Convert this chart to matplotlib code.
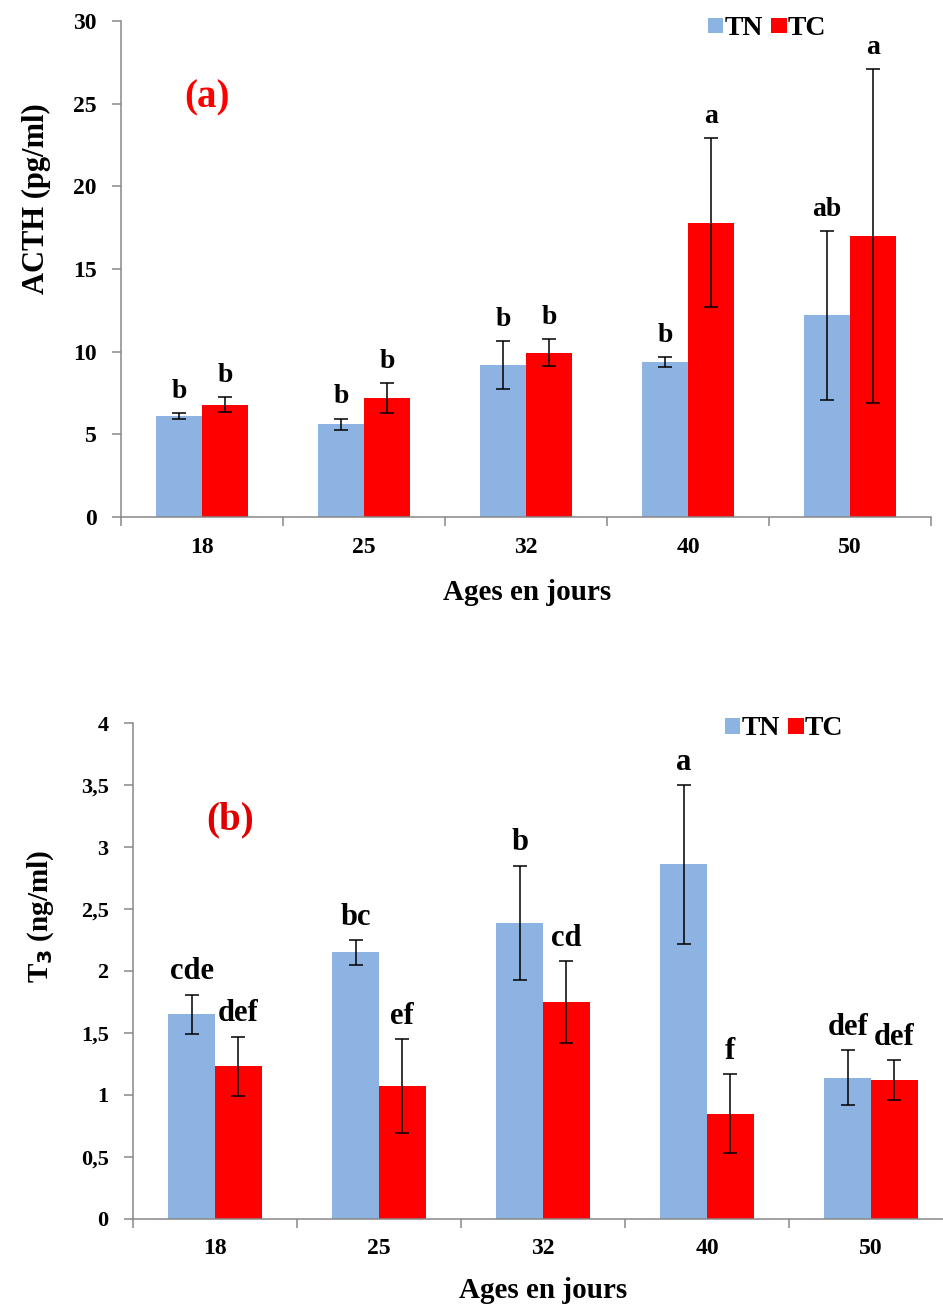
import matplotlib
matplotlib.use("Agg")
import matplotlib.pyplot as plt
import numpy as np

plt.rcParams['font.family'] = ['Liberation Serif', 'DejaVu Serif']
plt.rcParams['font.weight'] = 'bold'

ages = ["18", "25", "32", "40", "50"]

# panel (a) ACTH pg/ml
acth_tn = [6.1, 5.6, 9.2, 9.35, 12.2]
acth_tn_err = [0.2, 0.35, 1.45, 0.3, 5.1]
acth_tc = [6.8, 7.2, 9.95, 17.8, 17.0]
acth_tc_err = [0.45, 0.9, 0.8, 5.1, 10.1]
acth_tn_lab = ["b", "b", "b", "b", "ab"]
acth_tc_lab = ["b", "b", "b", "a", "a"]
acth_ticks = [0, 5, 10, 15, 20, 25, 30]

# panel (b) T3 ng/ml
t3_tn = [1.65, 2.15, 2.39, 2.86, 1.14]
t3_tn_err = [0.16, 0.10, 0.46, 0.64, 0.22]
t3_tc = [1.23, 1.07, 1.75, 0.85, 1.12]
t3_tc_err = [0.24, 0.38, 0.33, 0.32, 0.16]
t3_tn_lab = ["cde", "bc", "b", "a", "def"]
t3_tc_lab = ["def", "ef", "cd", "f", "def"]
t3_ticks = [0, 0.5, 1, 1.5, 2, 2.5, 3, 3.5, 4]
t3_ticklabels = ["0", "0,5", "1", "1,5", "2", "2,5", "3", "3,5", "4"]

c_tn = '#8DB3E2'
c_tc = '#FF0000'
grey = '#878787'
w = 0.284

fig = plt.figure(figsize=(9.43, 13.11), dpi=100)
ax1 = fig.add_axes([0.1283, 0.6056, 0.8590, 0.3784])
ax2 = fig.add_axes([0.1410, 0.0702, 0.8696, 0.3783])


def panel(ax, tn, tn_err, tc, tc_err, tn_lab, tc_lab, ymax, lab_size, tick_size):
    x = np.arange(len(ages))
    ekw = dict(ecolor='black', elinewidth=1.1, capsize=5, capthick=1.1)
    ax.bar(x - w / 2, tn, w, color=c_tn, yerr=tn_err, error_kw=ekw, label='TN')
    ax.bar(x + w / 2, tc, w, color=c_tc, yerr=tc_err, error_kw=ekw, label='TC')
    for i in range(len(ages)):
        ax.annotate(tn_lab[i], (x[i] - w / 2, tn[i] + tn_err[i]), xytext=(0, 11),
                    textcoords='offset points', ha='center', va='baseline',
                    fontsize=lab_size, fontweight='bold')
        ax.annotate(tc_lab[i], (x[i] + w / 2, tc[i] + tc_err[i]), xytext=(0, 11),
                    textcoords='offset points', ha='center', va='baseline',
                    fontsize=lab_size, fontweight='bold')
    ax.set_xlim(-0.5, len(ages) - 0.5)
    ax.set_ylim(0, ymax)
    ax.set_xticks(x)
    ax.set_xticklabels(ages, fontsize=17, fontweight='bold')
    ax.set_xticks(np.arange(len(ages) + 1) - 0.5, minor=True)
    ax.tick_params(axis='x', which='major', length=0, pad=14)
    ax.tick_params(axis='x', which='minor', length=6.5, width=1.1, color=grey, direction='out')
    ax.tick_params(axis='y', length=6.5, width=1.1, color=grey, pad=11, labelsize=tick_size)
    for s in ['top', 'right']:
        ax.spines[s].set_visible(False)
    for s in ['left', 'bottom']:
        ax.spines[s].set_color(grey)
        ax.spines[s].set_linewidth(1.1)
    ax.set_xlabel("Ages en jours", fontsize=21, fontweight='bold')


panel(ax1, acth_tn, acth_tn_err, acth_tc, acth_tc_err, acth_tn_lab, acth_tc_lab, 30, 20, 17)
ax1.set_yticks(acth_ticks)
ax1.set_yticklabels([str(t) for t in acth_ticks], fontweight='bold')
ax1.set_ylabel("ACTH (pg/ml)", fontsize=22, fontweight='bold')
ax1.yaxis.set_label_coords(-0.086, 0.642)
ax1.xaxis.set_label_coords(0.501, -0.125)
ax1.text(0.106, 0.845, "(a)", transform=ax1.transAxes, color='red', fontsize=28,
         fontweight='bold', ha='center', va='center')
ax1.legend(loc='center left', bbox_to_anchor=(0.7247, 0.984), ncol=2, frameon=False,
           borderpad=0, borderaxespad=0,
           handlelength=0.55, handleheight=0.5, handletextpad=0.05, columnspacing=0.3,
           prop={'size': 20, 'weight': 'bold'})

panel(ax2, t3_tn, t3_tn_err, t3_tc, t3_tc_err, t3_tn_lab, t3_tc_lab, 4, 22, 16)
ax2.set_yticks(t3_ticks)
ax2.set_yticklabels(t3_ticklabels, fontweight='bold')
ax2.set_ylabel("T$_3$ (ng/ml)", fontsize=21, fontweight='bold')
ax2.yaxis.set_label_coords(-0.094, 0.611)
ax2.xaxis.set_label_coords(0.5, -0.117)
ax2.text(0.118, 0.805, "(b)", transform=ax2.transAxes, color='#E00000', fontsize=28,
         fontweight='bold', ha='center', va='center')
ax2.legend(loc='center left', bbox_to_anchor=(0.722, 0.988), ncol=2, frameon=False,
           borderpad=0, borderaxespad=0,
           handlelength=0.55, handleheight=0.5, handletextpad=0.05, columnspacing=0.3,
           prop={'size': 20, 'weight': 'bold'})

fig.savefig("out.png", dpi=100)
